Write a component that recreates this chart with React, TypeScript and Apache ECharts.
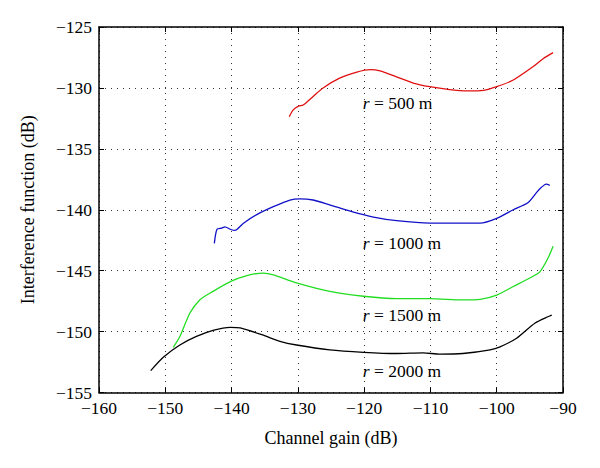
import React, { useEffect, useRef } from "react";
import * as echarts from "echarts";

const xTicks = [-160, -150, -140, -130, -120, -110, -100, -90];
const yTicks = [-155, -150, -145, -140, -135, -130, -125];

const r500: [number, number][] = [
  [-131.3, -132.36], [-130.7, -131.8], [-129.9, -131.5], [-129.2, -131.4], [-127.7, -130.7],
  [-126.2, -130.0], [-123.7, -129.2], [-121.1, -128.7], [-119.1, -128.5], [-117.6, -128.6],
  [-115.1, -129.1], [-112.6, -129.6], [-110.1, -129.9], [-107.6, -130.1], [-104.5, -130.25],
  [-102.0, -130.2], [-100.0, -129.9], [-97.5, -129.35], [-94.5, -128.25], [-93.0, -127.6],
  [-91.5, -127.1],
];

const r1000: [number, number][] = [
  [-142.6, -142.76], [-142.2, -141.6], [-141.5, -141.5], [-141.0, -141.4], [-140.2, -141.6],
  [-139.5, -141.7], [-138.2, -141.1], [-136.2, -140.4], [-133.7, -139.75], [-131.2, -139.2],
  [-129.7, -139.1], [-127.7, -139.2], [-125.2, -139.6], [-121.6, -140.2], [-118.6, -140.6],
  [-115.1, -140.9], [-110.1, -141.1], [-105.1, -141.1], [-102.5, -141.1], [-100.0, -140.7],
  [-97.5, -140.0], [-95.25, -139.4], [-93.7, -138.4], [-92.5, -137.9], [-92.0, -138.0],
];

const r1500: [number, number][] = [
  [-148.8, -151.3], [-147.8, -150.4], [-146.3, -148.5], [-144.8, -147.4], [-142.8, -146.7],
  [-140.2, -145.9], [-137.7, -145.4], [-135.2, -145.2], [-133.7, -145.35], [-130.2, -146.0],
  [-125.2, -146.7], [-120.1, -147.1], [-115.1, -147.3], [-110.1, -147.3], [-105.05, -147.4],
  [-102.5, -147.35], [-100.0, -147.0], [-97.5, -146.3], [-95.0, -145.6], [-93.5, -145.1],
  [-92.2, -143.9], [-91.5, -143.0],
];

const r2000: [number, number][] = [
  [-152.2, -153.2], [-150.3, -152.1], [-147.8, -151.1], [-145.3, -150.4], [-142.8, -149.9],
  [-140.2, -149.65], [-138.7, -149.7], [-135.2, -150.3], [-132.7, -150.8], [-130.2, -151.1],
  [-125.2, -151.5], [-120.1, -151.7], [-115.1, -151.8], [-111.1, -151.75], [-108.6, -151.85],
  [-105.1, -151.8], [-101.0, -151.5], [-99.5, -151.25], [-97.0, -150.55], [-94.2, -149.3],
  [-91.7, -148.65],
];

const labelNames = ["500", "1000", "1500", "2000"];
const labelCoords: [number, number][] = [
  [-120.2, -131.2], [-120.2, -142.76], [-120.2, -148.65], [-120.2, -153.2],
];
const colors = ["#e01010", "#1010c8", "#22dd22", "#000000"];

const FONT = "Liberation Serif";
const minus = (v: number) => String(v).replace("-", "\u2212");

export default function App() {
  const ref = useRef<HTMLDivElement>(null);
  useEffect(() => {
    if (!ref.current) return;
    const chart = echarts.init(ref.current, null, { renderer: "svg" });
    const datasets = [r500, r1000, r1500, r2000];
    const splitLine = { show: true, lineStyle: { color: "#333", type: [1, 5] as any, width: 1 } };
    const baseX = {
      type: "value", min: xTicks[0], max: xTicks[xTicks.length - 1], interval: 10,
    };
    const baseY = {
      type: "value", min: yTicks[0], max: yTicks[yTicks.length - 1], interval: 5,
    };
    chart.setOption({
      animation: false,
      backgroundColor: "#fff",
      grid: { left: 99, right: 37, top: 27, bottom: 75.5, containLabel: false },
      xAxis: [
        {
          ...baseX,
          position: "bottom",
          name: "Channel gain (dB)",
          nameLocation: "middle",
          nameGap: 36,
          nameTextStyle: { fontFamily: FONT, fontSize: 18, color: "#000" },
          axisLine: { lineStyle: { color: "#000", width: 1.5 } },
          axisTick: { inside: true, length: 5, lineStyle: { color: "#000" } },
          axisLabel: { formatter: minus, fontFamily: FONT, fontSize: 17.5, color: "#000", margin: 6 },
          splitLine,
        },
        {
          ...baseX,
          position: "top",
          axisLine: { lineStyle: { color: "#000", width: 1.5 } },
          axisTick: { inside: true, length: 5, lineStyle: { color: "#000" } },
          axisLabel: { show: false },
          splitLine: { show: false },
        },
      ],
      yAxis: [
        {
          ...baseY,
          position: "left",
          name: "Interference function (dB)",
          nameLocation: "middle",
          nameGap: 62,
          nameTextStyle: { fontFamily: FONT, fontSize: 18, color: "#000" },
          axisLine: { lineStyle: { color: "#000", width: 1.5 } },
          axisTick: { inside: true, length: 5, lineStyle: { color: "#000" } },
          axisLabel: { formatter: minus, fontFamily: FONT, fontSize: 17.5, color: "#000", margin: 7 },
          splitLine,
        },
        {
          ...baseY,
          position: "right",
          axisLine: { lineStyle: { color: "#000", width: 1.5 } },
          axisTick: { inside: true, length: 5, lineStyle: { color: "#000" } },
          axisLabel: { show: false },
          splitLine: { show: false },
        },
      ],
      series: datasets.map((d, i) => ({
        type: "line",
        data: d,
        xAxisIndex: 0,
        yAxisIndex: 0,
        showSymbol: false,
        smooth: 0.25,
        lineStyle: { color: colors[i], width: 1.3 },
        markPoint: {
          symbol: "circle",
          symbolSize: 0,
          silent: true,
          data: [{ coord: labelCoords[i] }],
          label: {
            show: true,
            position: "right",
            distance: 0,
            formatter: `{i|r} = ${labelNames[i]} m`,
            fontFamily: FONT,
            fontSize: 17.5,
            color: "#000",
            rich: { i: { fontStyle: "italic", fontFamily: FONT, fontSize: 17.5, color: "#000" } },
          },
        },
      })),
    });
    return () => chart.dispose();
  }, []);
  return <div ref={ref} style={{ width: 600, height: 468, position: "absolute", left: 0, top: 0 }} />;
}
